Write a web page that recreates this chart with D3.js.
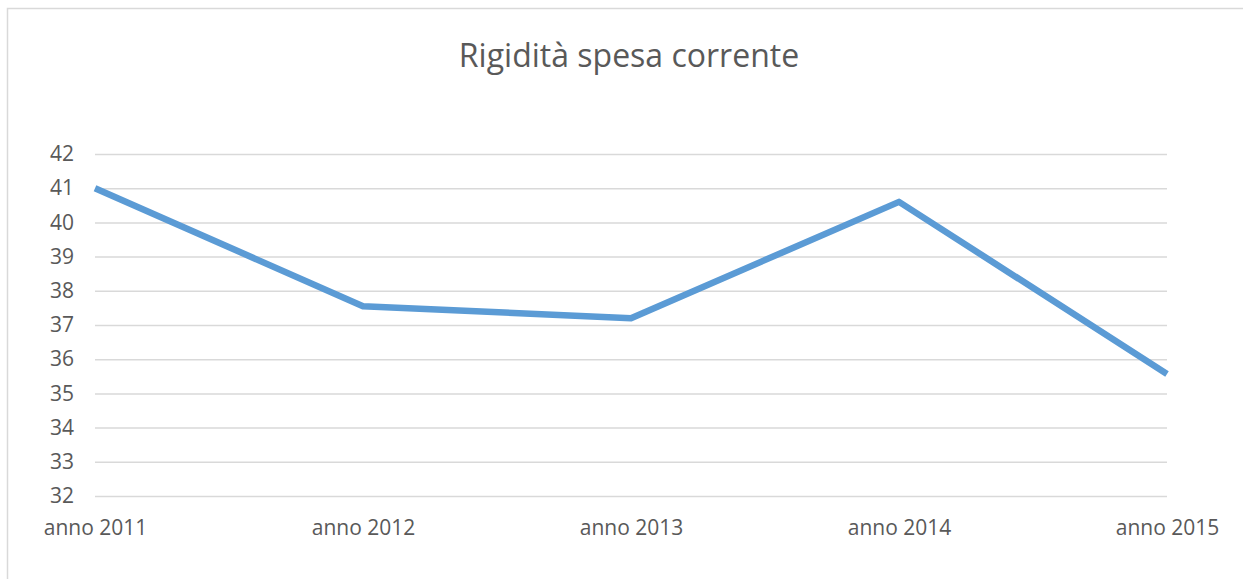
<!DOCTYPE html>
<html lang="en">

<head>
    <meta charset="UTF-8">
    <title>Rigidità spesa corrente</title>
    <style>
        body { margin: 0; background: #fff; }
        svg { display: block; }
    </style>
</head>

<body>
    <script src="https://d3js.org/d3.v7.min.js"></script>
    <script>

        const width = 1243;
        const height = 579;

        // data
        const years = ["anno 2011", "anno 2012", "anno 2013", "anno 2014", "anno 2015"];
        const values = [41.0, 37.55, 37.2, 40.6, 35.57];
        const yTicks = [32, 33, 34, 35, 36, 37, 38, 39, 40, 41, 42];

        const margin = { top: 154, right: 76, bottom: 83, left: 95 };

        const x = d3.scalePoint()
            .domain(years)
            .range([margin.left, width - margin.right]);

        const y = d3.scaleLinear()
            .domain([32, 42])
            .range([height - margin.bottom, margin.top]);

        const svg = d3.select("body").append("svg")
            .attr("width", width)
            .attr("height", height);

        // chart border (runs off the right and bottom)
        svg.append("rect")
            .attr("x", 7.5)
            .attr("y", 8.5)
            .attr("width", width + 20)
            .attr("height", height + 20)
            .attr("fill", "white")
            .attr("stroke", "#d9d9d9")
            .attr("stroke-width", 1.5);

        // title
        svg.append("text")
            .attr("x", 629)
            .attr("y", 67)
            .attr("text-anchor", "middle")
            .attr("font-family", "'Open Sans', sans-serif")
            .attr("font-size", 32)
            .attr("fill", "#595959")
            .text("Rigidità spesa corrente");

        // gridlines + y labels
        const yAxis = d3.axisLeft(y)
            .tickValues(yTicks)
            .tickSize(-(width - margin.left - margin.right))
            .tickPadding(21);

        svg.append("g")
            .attr("transform", `translate(${margin.left},0)`)
            .call(yAxis)
            .call(g => g.select(".domain").remove())
            .call(g => g.selectAll(".tick line")
                .attr("stroke", "#d9d9d9")
                .attr("stroke-width", 1.5))
            .call(g => g.selectAll(".tick text")
                .attr("font-family", "'Open Sans', sans-serif")
                .attr("font-size", 21)
                .attr("fill", "#595959"));

        // x labels
        const xAxis = d3.axisBottom(x)
            .tickSize(0)
            .tickPadding(24);

        svg.append("g")
            .attr("transform", `translate(0,${height - margin.bottom})`)
            .call(xAxis)
            .call(g => g.select(".domain").remove())
            .call(g => g.selectAll(".tick text")
                .attr("font-family", "'Open Sans', sans-serif")
                .attr("font-size", 21)
                .attr("fill", "#595959"));

        // line
        const line = d3.line()
            .x((d, i) => x(years[i]))
            .y(d => y(d));

        svg.append("path")
            .datum(values)
            .attr("fill", "none")
            .attr("stroke", "#5b9bd5")
            .attr("stroke-width", 6.5)
            .attr("stroke-linejoin", "round")
            .attr("d", line);

    </script>
</body>

</html>
